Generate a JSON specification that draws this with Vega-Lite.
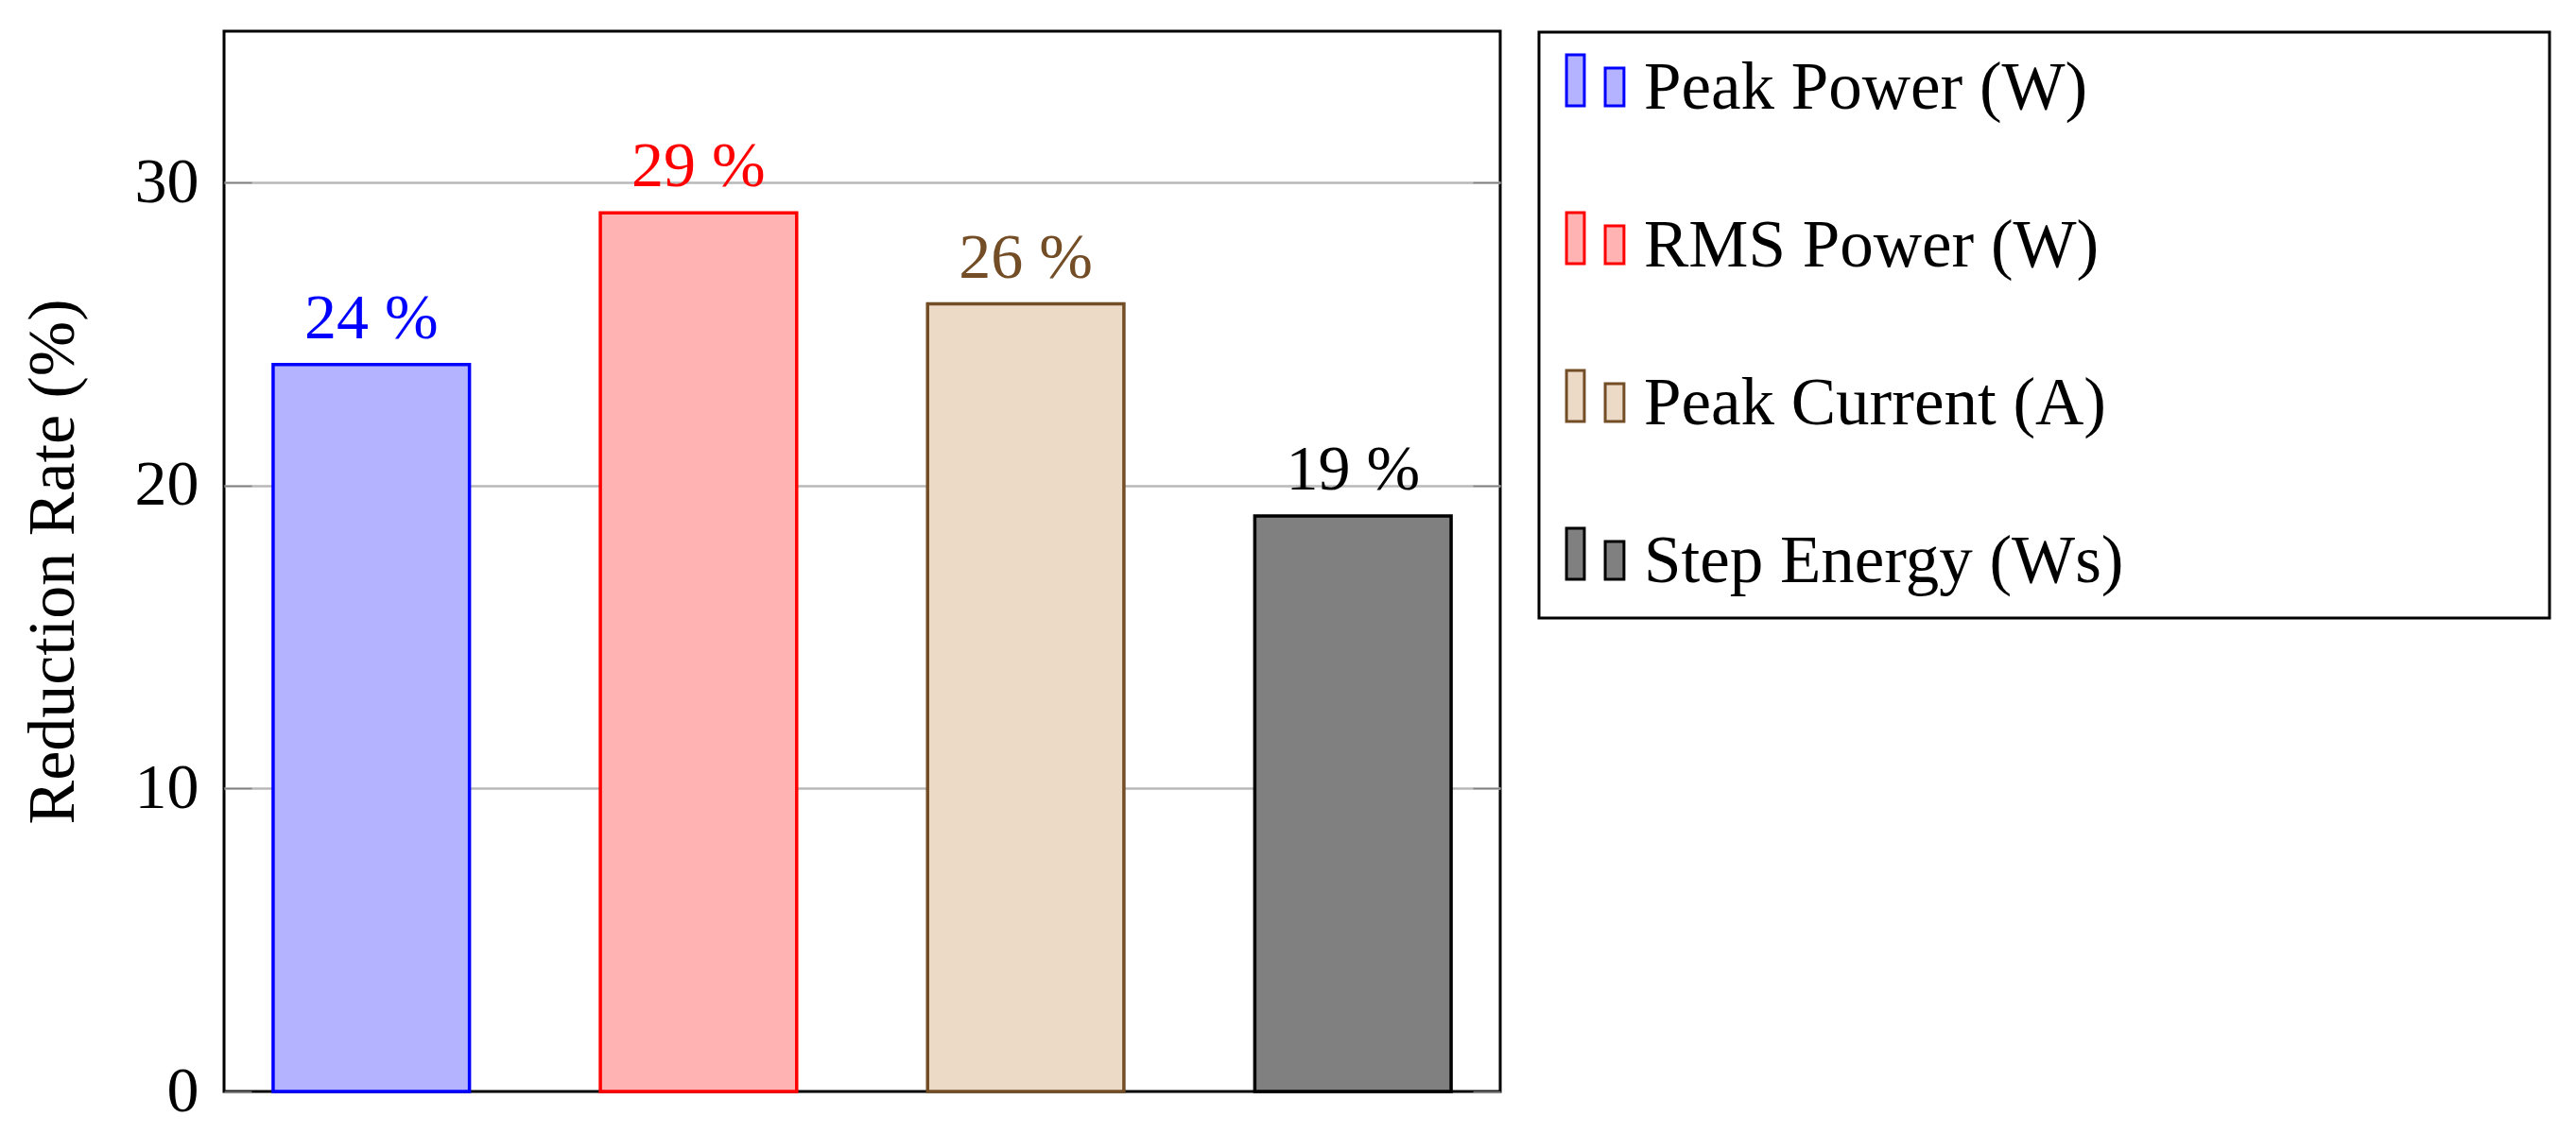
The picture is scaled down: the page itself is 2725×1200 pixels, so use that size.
{
  "$schema": "https://vega.github.io/schema/vega-lite/v6.json",
  "width": 1350,
  "height": 1122,
  "autosize": {"type": "none"},
  "padding": {"left": 237, "top": 33, "right": 1138, "bottom": 45},
  "background": "white",
  "config": {"font": "Liberation Serif", "view": {"stroke": "black", "strokeWidth": 3}},
  "data": {"values": [
    {"metric": "Peak Power (W)", "value": 24, "label": "24 %"},
    {"metric": "RMS Power (W)", "value": 29, "label": "29 %"},
    {"metric": "Peak Current (A)", "value": 26, "label": "26 %"},
    {"metric": "Step Energy (Ws)", "value": 19, "label": "19 %"}
  ]},
  "encoding": {
    "x": {"field": "metric", "type": "nominal", "sort": null, "scale": {"paddingInner": 0.4, "paddingOuter": 0.15}, "axis": null}
  },
  "layer": [
    {
      "mark": {"type": "bar", "strokeWidth": 3.5, "opacity": 1},
      "encoding": {
        "y": {"field": "value", "type": "quantitative", "scale": {"domain": [0, 35], "nice": false},
          "axis": {"orient": "left", "values": [0, 10, 20, 30], "title": "Reduction Rate (%)", "titleFont": "Liberation Serif", "titleFontSize": 70, "titleFontWeight": "normal", "titleColor": "black", "titlePadding": 50,
            "labelFont": "Liberation Serif", "labelFontSize": 68, "labelColor": "black", "labelPadding": 56, "tickSize": -29, "tickColor": "#808080", "tickWidth": 1.5, "domain": false, "grid": true,
            "gridColor": "#b8b8b8", "gridWidth": 2.5, "gridOpacity": {"condition": {"test": "datum.value === 0", "value": 0}, "value": 1}}},
        "fill": {"field": "metric", "type": "nominal",
          "scale": {"domain": ["Peak Power (W)", "RMS Power (W)", "Peak Current (A)", "Step Energy (Ws)"], "range": ["#b3b3ff", "#ffb3b3", "#ecd9c6", "#808080"]},
          "legend": {"title": null, "orient": "none", "legendX": 1391, "legendY": 1, "symbolType": "M-0.95,-1.11H-0.36V0.58H-0.95Z M0.33,-0.67H0.95V0.58H0.33Z", "symbolSize": 4096, "symbolStrokeWidth": 3, "symbolOpacity": 1, "labelFont": "Liberation Serif", "labelFontSize": 71, "labelColor": "black", "labelOffset": 16, "labelLimit": 3000, "rowPadding": 89, "padding": 24, "strokeColor": "black",
            "labelExpr": "datum.label + '\u00a0\u00a0\u00a0\u00a0\u00a0\u00a0\u00a0\u00a0\u00a0\u00a0\u00a0\u00a0\u00a0\u00a0\u00a0\u00a0\u00a0\u00a0\u00a0\u00a0\u00a0\u00a0\u00a0\u00a0\u200b'",
            "encode": {"legend": {"update": {"strokeWidth": {"value": 3}}}}}},
        "stroke": {"field": "metric", "type": "nominal",
          "scale": {"domain": ["Peak Power (W)", "RMS Power (W)", "Peak Current (A)", "Step Energy (Ws)"], "range": ["#0000ff", "#ff0000", "#734d26", "#000000"]},
          "legend": {"title": null, "orient": "none", "legendX": 1391, "legendY": 1, "symbolType": "M-0.95,-1.11H-0.36V0.58H-0.95Z M0.33,-0.67H0.95V0.58H0.33Z", "symbolSize": 4096, "symbolStrokeWidth": 3, "symbolOpacity": 1, "labelFont": "Liberation Serif", "labelFontSize": 71, "labelColor": "black", "labelOffset": 16, "labelLimit": 3000, "rowPadding": 89, "padding": 24, "strokeColor": "black",
            "labelExpr": "datum.label + '\u00a0\u00a0\u00a0\u00a0\u00a0\u00a0\u00a0\u00a0\u00a0\u00a0\u00a0\u00a0\u00a0\u00a0\u00a0\u00a0\u00a0\u00a0\u00a0\u00a0\u00a0\u00a0\u00a0\u00a0\u200b'",
            "encode": {"legend": {"update": {"strokeWidth": {"value": 3}}}}}}
      }
    },
    {
      "mark": {"type": "text", "baseline": "alphabetic", "dy": -28, "fontSize": 68, "font": "Liberation Serif"},
      "encoding": {
        "y": {"field": "value", "type": "quantitative", "scale": {"domain": [0, 35], "nice": false},
          "axis": {"orient": "right", "values": [0, 10, 20, 30], "labels": false, "title": null, "tickSize": -29, "tickColor": "#808080", "tickWidth": 1.5, "domain": false, "grid": false}},
        "text": {"field": "label"},
        "color": {"field": "metric", "type": "nominal",
          "scale": {"domain": ["Peak Power (W)", "RMS Power (W)", "Peak Current (A)", "Step Energy (Ws)"], "range": ["#0000ff", "#ff0000", "#734d26", "#000000"]},
          "legend": null}
      }
    }
  ],
  "resolve": {"axis": {"y": "independent"}}
}
